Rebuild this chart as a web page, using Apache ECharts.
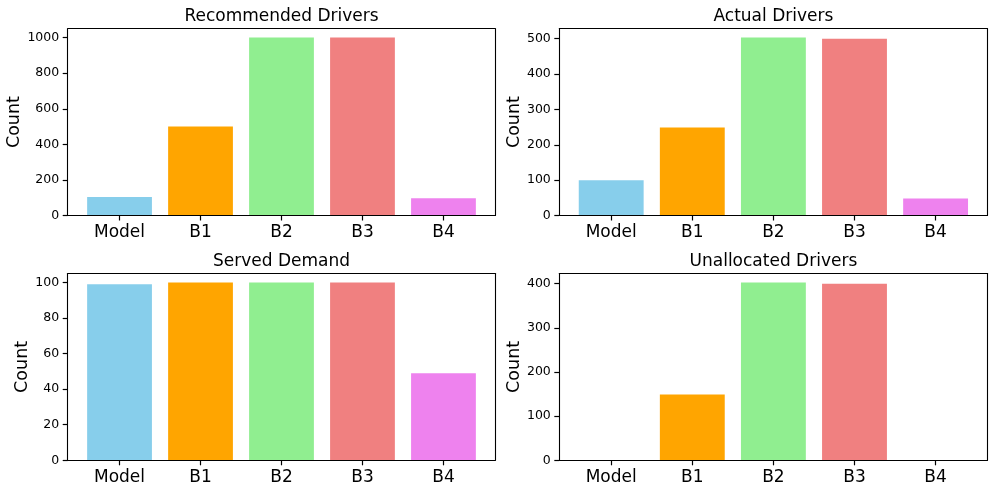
<!DOCTYPE html>
<html>
<head>
<meta charset="utf-8">
<script src="https://cdn.jsdelivr.net/npm/echarts@6/dist/echarts.min.js"></script>
<style>
html,body{margin:0;padding:0;background:#fff;}
#chart{width:996px;height:494px;}
</style>
</head>
<body>
<div id="chart"></div>
<script>
// ---- data ----
const categories = ['Model', 'B1', 'B2', 'B3', 'B4'];
const barColors = ['#87CEEB', '#FFA500', '#90EE90', '#F08080', '#EE82EE'];
const recommendedDrivers = [104, 500, 1000, 1000, 97];
const actualDrivers = [100, 249, 503, 500, 48];
const servedDemand = [99, 100, 100, 100, 49];
const unallocatedDrivers = [0, 149, 403, 400, 0];
const recommendedTicks = [0, 200, 400, 600, 800, 1000];
const actualTicks = [0, 100, 200, 300, 400, 500];
const servedTicks = [0, 20, 40, 60, 80, 100];
const unallocatedTicks = [0, 100, 200, 300, 400];
const titles = ['Recommended Drivers', 'Actual Drivers', 'Served Demand', 'Unallocated Drivers'];
const yLabel = 'Count';

// ---- layout ----
const FONT = 'DejaVu Sans';
const panels = [
  { title: titles[0], data: recommendedDrivers, ticks: recommendedTicks, left: 67.7, right: 495.3, top: 28.7, bottom: 215.5, nameGap: 42 },
  { title: titles[1], data: actualDrivers, ticks: actualTicks, left: 559.3, right: 987.5, top: 28.7, bottom: 215.5, nameGap: 33.5 },
  { title: titles[2], data: servedDemand, ticks: servedTicks, left: 67.7, right: 495.3, top: 273.5, bottom: 460.3, nameGap: 34.5 },
  { title: titles[3], data: unallocatedDrivers, ticks: unallocatedTicks, left: 559.3, right: 987.5, top: 273.5, bottom: 460.3, nameGap: 33.5 }
];
const xMin = -0.64, xMax = categories.length - 1 + 0.64;
const catIdx = categories.map((c, i) => i);
const ls = () => ({ color: '#000', width: 1.1 });
const tickLs = () => ({ color: '#000', width: 1.2 });

const option = { animation: false, backgroundColor: '#fff', title: [], grid: [], xAxis: [], yAxis: [], series: [] };

panels.forEach((p, k) => {
  const w = p.right - p.left;
  const h = p.bottom - p.top;
  const maxV = Math.max.apply(null, p.data);
  option.grid.push({ left: p.left, top: p.top, width: w, height: h, show: false, containLabel: false });
  option.title.push({
    text: p.title, left: (p.left + p.right) / 2, top: p.top - 20.5, textAlign: 'center', padding: 0,
    textStyle: { fontFamily: FONT, fontSize: 17, fontWeight: 'normal', color: '#000' }
  });
  // bottom x axis (with ticks and labels)
  option.xAxis.push({
    type: 'value', gridIndex: k, min: xMin, max: xMax, position: 'bottom', z: 5,
    axisLine: { show: true, onZero: false, lineStyle: ls() }, splitLine: { show: false },
    axisTick: { show: true, customValues: catIdx, length: 5, lineStyle: tickLs() },
    axisLabel: { show: true, customValues: catIdx, margin: 8.5, formatter: v => categories[Math.round(v)],
      fontFamily: FONT, fontSize: 17, color: '#000' }
  });
  // top frame line
  option.xAxis.push({
    type: 'value', gridIndex: k, min: xMin, max: xMax, position: 'top', z: 5,
    axisLine: { show: true, onZero: false, lineStyle: ls() }, splitLine: { show: false },
    axisTick: { show: false }, axisLabel: { show: false }
  });
  // left y axis
  option.yAxis.push({
    type: 'value', gridIndex: k, min: 0, max: maxV * 1.05, position: 'left', z: 5,
    name: yLabel, nameLocation: 'middle', nameGap: p.nameGap, nameRotate: 90,
    nameTextStyle: { fontFamily: FONT, fontSize: 17.5, color: '#000' },
    axisLine: { show: true, onZero: false, lineStyle: ls() }, splitLine: { show: false },
    axisTick: { show: true, customValues: p.ticks, length: 5, lineStyle: tickLs() },
    axisLabel: { show: true, customValues: p.ticks, margin: 8.5, formatter: v => String(v),
      fontFamily: FONT, fontSize: 12.5, color: '#000' }
  });
  // right frame line
  option.yAxis.push({
    type: 'value', gridIndex: k, min: 0, max: maxV * 1.05, position: 'right', z: 5,
    axisLine: { show: true, onZero: false, lineStyle: ls() }, splitLine: { show: false },
    axisTick: { show: false }, axisLabel: { show: false }
  });
  option.series.push({
    type: 'bar', xAxisIndex: 2 * k, yAxisIndex: 2 * k,
    barWidth: 0.8 * w / (xMax - xMin),
    data: p.data.map((v, i) => ({ value: [i, v], itemStyle: { color: barColors[i] } }))
  });
});

const chart = echarts.init(document.getElementById('chart'), null, { renderer: 'canvas' });
chart.setOption(option);
</script>
</body>
</html>
